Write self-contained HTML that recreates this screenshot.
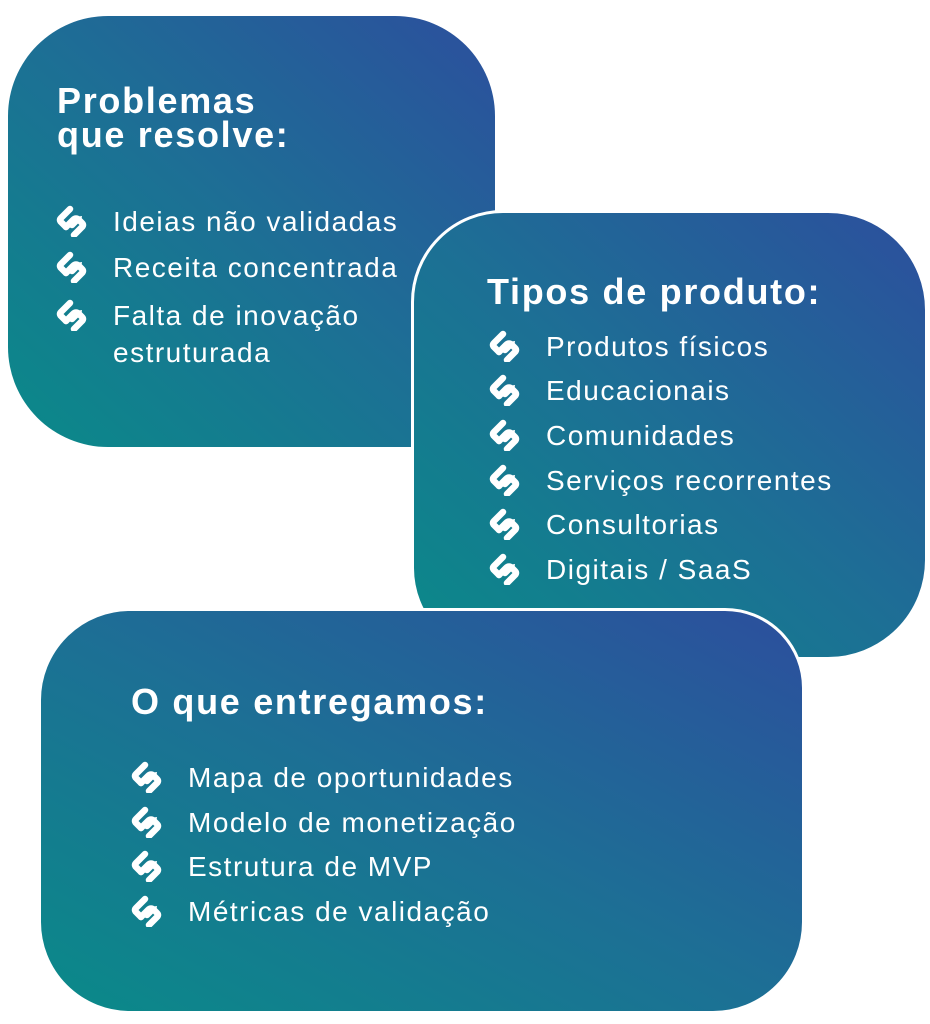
<!DOCTYPE html>
<html><head><meta charset="utf-8"><style>
html,body{margin:0;padding:0;background:#fff;width:930px;height:1024px;overflow:hidden;font-family:"Liberation Sans",sans-serif;}
.box{position:absolute;background:linear-gradient(to top right,#0a8a89 0%,#1d6f95 50%,#2c4f9d 100%);color:#fff;box-sizing:border-box;}
.t{position:absolute;font-weight:bold;font-size:36px;line-height:34px;letter-spacing:1.7px;}
.it{position:absolute;font-size:28px;letter-spacing:1.5px;white-space:nowrap;line-height:32px;}
.it svg{position:absolute;left:-57px;top:-1px;}
</style></head><body>
<svg width="0" height="0" style="position:absolute"><defs>
<g id="ic"><g fill="none" stroke="#fff" stroke-width="6.5" stroke-linecap="round" stroke-linejoin="round">
<path d="M13 4 L4 13 Q2 15 4 17 L9 22"/><path d="M9 22 L16 15 Q19 12 22 15 L25 18 Q27 20 25 22 L17 30"/><path d="M15 20 L20 15"/>
</g><path d="M18 12 L25 11 L24 18 Z" fill="#fff"/></g></defs></svg>

<div class="box" style="left:8px;top:16px;width:487px;height:431px;border-radius:100px 100px 0 100px;">
<div class="t" style="left:49px;top:68px;">Problemas<br>que resolve:</div>
<div class="it" style="left:105px;top:190px;"><svg width="32" height="32" viewBox="0 0 30 32"><use href="#ic"/></svg>Ideias não validadas</div>
<div class="it" style="left:105px;top:236px;"><svg width="32" height="32" viewBox="0 0 30 32"><use href="#ic"/></svg>Receita concentrada</div>
<div class="it" style="left:105px;top:281px;line-height:37px;"><svg width="32" height="32" viewBox="0 0 30 32" style="top:2px"><use href="#ic"/></svg>Falta de inovação<br>estruturada</div>
</div>

<div class="box" style="left:411px;top:210px;width:517px;height:450px;border-radius:92px 100px 100px 92px;border:3px solid #fff;">
<div class="t" style="left:73px;top:62px;">Tipos de produto:</div>
<div class="it" style="left:132px;top:118px;"><svg width="32" height="32" viewBox="0 0 30 32"><use href="#ic"/></svg>Produtos físicos</div>
<div class="it" style="left:132px;top:162px;"><svg width="32" height="32" viewBox="0 0 30 32"><use href="#ic"/></svg>Educacionais</div>
<div class="it" style="left:132px;top:207px;"><svg width="32" height="32" viewBox="0 0 30 32"><use href="#ic"/></svg>Comunidades</div>
<div class="it" style="left:132px;top:252px;"><svg width="32" height="32" viewBox="0 0 30 32"><use href="#ic"/></svg>Serviços recorrentes</div>
<div class="it" style="left:132px;top:296px;"><svg width="32" height="32" viewBox="0 0 30 32"><use href="#ic"/></svg>Consultorias</div>
<div class="it" style="left:132px;top:341px;"><svg width="32" height="32" viewBox="0 0 30 32"><use href="#ic"/></svg>Digitais / SaaS</div>
</div>

<div class="box" style="left:38px;top:608px;width:767px;height:406px;border-radius:92px 80px 92px 92px;border:3px solid #fff;">
<div class="t" style="left:90px;top:74px;">O que entregamos:</div>
<div class="it" style="left:147px;top:151px;"><svg width="32" height="32" viewBox="0 0 30 32"><use href="#ic"/></svg>Mapa de oportunidades</div>
<div class="it" style="left:147px;top:196px;"><svg width="32" height="32" viewBox="0 0 30 32"><use href="#ic"/></svg>Modelo de monetização</div>
<div class="it" style="left:147px;top:240px;"><svg width="32" height="32" viewBox="0 0 30 32"><use href="#ic"/></svg>Estrutura de MVP</div>
<div class="it" style="left:147px;top:285px;"><svg width="32" height="32" viewBox="0 0 30 32"><use href="#ic"/></svg>Métricas de validação</div>
</div>
</body></html>
